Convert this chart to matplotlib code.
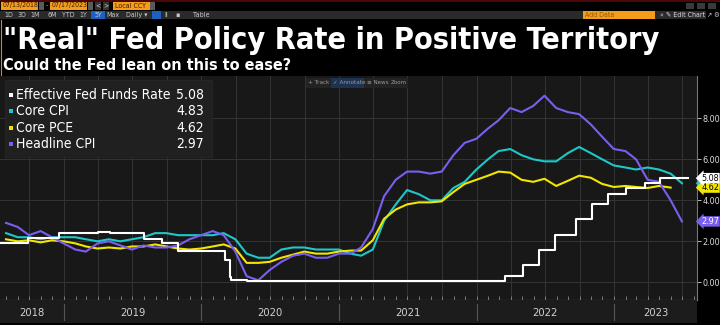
import numpy as np
import pandas as pd
import matplotlib
matplotlib.use("Agg")
import matplotlib.pyplot as plt
import matplotlib.dates as mdates
from matplotlib.patches import Rectangle
from matplotlib.ticker import FixedLocator, FormatStrFormatter
import matplotlib.transforms as mtransforms

plt.rcParams['font.family'] = ['DejaVu Sans']
plt.rcParams['font.stretch'] = 'condensed'

# monthly YoY inflation, month-end dates
cpi_dates = pd.date_range('2018-07-31', periods=60, freq='ME')
headline_cpi = [2.9, 2.7, 2.3, 2.5, 2.2, 1.9,
                1.6, 1.5, 1.9, 2.0, 1.8, 1.6, 1.8, 1.7, 1.7, 1.8, 2.1, 2.3,
                2.5, 2.3, 1.5, 0.3, 0.1, 0.6, 1.0, 1.3, 1.4, 1.2, 1.2, 1.4,
                1.4, 1.7, 2.6, 4.2, 5.0, 5.4, 5.4, 5.3, 5.4, 6.2, 6.8, 7.0,
                7.5, 7.9, 8.5, 8.3, 8.6, 9.1, 8.5, 8.3, 8.2, 7.7, 7.1, 6.5,
                6.4, 6.0, 5.0, 4.9, 4.0, 2.97]
core_cpi = [2.4, 2.2, 2.2, 2.1, 2.2, 2.2,
            2.2, 2.1, 2.0, 2.1, 2.0, 2.1, 2.2, 2.4, 2.4, 2.3, 2.3, 2.3,
            2.3, 2.4, 2.1, 1.4, 1.2, 1.2, 1.6, 1.7, 1.7, 1.6, 1.6, 1.6,
            1.4, 1.3, 1.6, 3.0, 3.8, 4.5, 4.3, 4.0, 4.0, 4.6, 4.9, 5.5,
            6.0, 6.4, 6.5, 6.2, 6.0, 5.9, 5.9, 6.3, 6.6, 6.3, 6.0, 5.7,
            5.6, 5.5, 5.6, 5.5, 5.3, 4.83]
pce_dates = pd.date_range('2018-07-31', periods=59, freq='ME')
core_pce = [2.1, 2.0, 2.05, 1.95, 2.05, 2.0,
            1.9, 1.75, 1.65, 1.7, 1.65, 1.75, 1.75, 1.85, 1.75, 1.65, 1.6, 1.65,
            1.75, 1.85, 1.65, 0.95, 0.95, 1.0, 1.2, 1.35, 1.5, 1.4, 1.4, 1.5,
            1.55, 1.55, 2.05, 3.1, 3.55, 3.8, 3.9, 3.9, 3.95, 4.4, 4.8, 5.0,
            5.2, 5.4, 5.35, 5.0, 4.9, 5.05, 4.7, 4.95, 5.2, 5.1, 4.8, 4.65,
            4.7, 4.65, 4.6, 4.7, 4.62]

# effective fed funds: date of each level change
effr_dates = pd.to_datetime([
    '2018-07-13', '2018-09-27', '2018-12-20', '2019-04-01', '2019-05-02',
    '2019-08-01', '2019-09-19', '2019-10-31', '2020-03-04', '2020-03-16',
    '2020-03-19', '2020-05-01', '2020-06-01', '2021-03-01', '2021-06-17',
    '2022-03-17', '2022-05-05', '2022-06-16', '2022-07-28', '2022-09-22',
    '2022-11-03', '2022-12-15', '2023-02-02', '2023-03-23', '2023-05-04',
    '2023-07-17'])
effr = [1.91, 2.18, 2.40, 2.44, 2.39,
        2.13, 1.90, 1.55, 1.09, 0.25,
        0.10, 0.05, 0.09, 0.07, 0.08,
        0.33, 0.83, 1.58, 2.33, 3.08,
        3.83, 4.33, 4.58, 4.83, 5.08,
        5.08]

series = [
    ('Effective Fed Funds Rate', effr_dates, effr, '#ffffff', 'black'),
    ('Core CPI', cpi_dates, core_cpi, '#1ec8c8', 'black'),
    ('Core PCE', pce_dates, core_pce, '#f2e600', 'black'),
    ('Headline CPI', cpi_dates, headline_cpi, '#7b5ef0', 'white'),
]

W, H = 720, 325
def fx(px):
    return px / W
def fy(py):
    return 1 - py / H

fig = plt.figure(figsize=(7.2, 3.25), dpi=100, facecolor='black')

# --- main chart panel ---
x0 = pd.Timestamp('2018-07-15')
x1 = pd.Timestamp('2023-08-09')
ax = fig.add_axes([0, fy(300), fx(697), (300 - 76) / H])
ax.set_facecolor('#181818')
ax.set_xlim(x0, x1)
ax.set_ylim(-0.86, 10.06)

for name, d, v, c, tc in series[1:]:
    ax.plot(d, v, color=c, lw=1.5, solid_joinstyle='round', zorder=3)
ax.plot(effr_dates, effr, color='white', lw=1.5, drawstyle='steps-post', zorder=4)

ax.yaxis.tick_right()
ax.yaxis.set_major_locator(FixedLocator([0, 2, 4, 6, 8]))
ax.yaxis.set_major_formatter(FormatStrFormatter('%.2f'))
ax.tick_params(axis='y', colors='#dddddd', labelsize=6.5, length=3, width=0.6, pad=1)
ax.xaxis.set_major_locator(mdates.MonthLocator(bymonth=[1, 4, 7, 10]))
ax.xaxis.set_minor_locator(mdates.MonthLocator())
ax.tick_params(axis='x', which='both', direction='in', length=3, width=0.6,
               colors='#8a8a8a', labelbottom=False)
ax.grid(True, color='#343434', lw=0.7)
ax.set_axisbelow(True)
for s in ['top', 'left']:
    ax.spines[s].set_visible(False)
ax.spines['right'].set_color('#777777')
ax.spines['bottom'].set_color('#8a8a8a')
ax.spines['right'].set_linewidth(0.8)
ax.spines['bottom'].set_linewidth(0.8)

# last-value tags on the right axis
tag_tr = mtransforms.blended_transform_factory(ax.transAxes, ax.transData)
for name, d, v, c, tc in [series[1], series[2], series[0], series[3]]:
    ax.text(1.006, v[-1], f'{v[-1]:.2f}', transform=tag_tr, fontsize=6.5,
            color=tc, va='center', ha='left', zorder=6, clip_on=False,
            bbox=dict(boxstyle='larrow,pad=0.08', fc=c, ec='none'))

# --- year band under the chart ---
band = fig.add_axes([0, fy(323), fx(697), 23 / H])
band.set_xlim(x0, x1)
band.set_ylim(0, 1)
band.axis('off')
band.add_patch(Rectangle((0, 0), 1, 1, transform=band.transAxes, fc='#1c1c1c', ec='none'))
for yr in range(2018, 2024):
    start = max(pd.Timestamp(f'{yr}-01-01'), x0)
    end = min(pd.Timestamp(f'{yr + 1}-01-01'), x1)
    mid = start + (end - start) / 2
    band.text(mid, 0.45, str(yr), color='#d0d0d0', fontsize=8, ha='center', va='center')
    if yr > 2018:
        band.plot([start, start], [0.12, 0.82], color='#555555', lw=0.8)

# --- legend box ---
fig.patches.append(Rectangle((fx(5), fy(157)), fx(207), 77 / H, transform=fig.transFigure,
                             fc='#202020', ec='#2a2a2a', lw=0.5))
for i, (name, d, v, c, tc) in enumerate(series):
    yrow = 95 + i * 16.3
    fig.patches.append(Rectangle((fx(9), fy(yrow + 2)), fx(4), 4 / H,
                                 transform=fig.transFigure, fc=c, ec='none'))
    fig.text(fx(16), fy(yrow), name, color='white', fontsize=10, va='center', ha='left')
    fig.text(fx(204), fy(yrow), f'{v[-1]:.2f}', color='white', fontsize=10,
             va='center', ha='right')

# --- chart toolbar ---
fig.patches.append(Rectangle((fx(306), fy(88)), fx(102), 10 / H, transform=fig.transFigure,
                             fc='#232323', ec='none'))
fig.patches.append(Rectangle((fx(331), fy(88)), fx(33), 10 / H, transform=fig.transFigure,
                             fc='#1d3352', ec='none'))
for px, lab in [(308, '+ Track'), (333, '✓ Annotate'), (367, '≡ News'), (391, 'Zoom')]:
    fig.text(fx(px), fy(83), lab, color='#9a9a9a', fontsize=4.5, va='center', ha='left')

# --- titles ---
fig.text(fx(3), fy(49), '"Real" Fed Policy Rate in Positive Territory', color='white',
         fontsize=22, weight='bold', va='baseline', ha='left')
fig.text(fx(3), fy(70), 'Could the Fed lean on this to ease?', color='white',
         fontsize=11.6, weight='bold', va='baseline', ha='left')
fig.add_artist(plt.Line2D([fx(0.6), fx(0.6)], [fy(20), fy(75)], transform=fig.transFigure,
                          color='#e08a00', lw=0.8))

# --- terminal header bar ---
fig.add_artist(plt.Line2D([0, 1], [fy(0.5), fy(0.5)], transform=fig.transFigure,
                          color='#5a0a0a', lw=1.2))
orange = '#f59c1a'
for left, right, lab in [(1, 38, '07/13/2018'), (50, 87, '07/17/2023'), (113, 150, 'Local CCY')]:
    fig.patches.append(Rectangle((fx(left), fy(9.5)), fx(right - left), 8 / H,
                                 transform=fig.transFigure, fc=orange, ec='none'))
    fig.text(fx(left + 2), fy(5.5), lab, color='#3a2000', fontsize=5, va='center', ha='left')
for left in [39, 88, 150]:
    fig.patches.append(Rectangle((fx(left), fy(9.5)), fx(5), 8 / H,
                                 transform=fig.transFigure, fc='#5a5a5a', ec='none'))
fig.text(fx(46.5), fy(5.5), '-', color='#bbbbbb', fontsize=5, va='center', ha='center')
for left, lab in [(95, '<'), (103, '>')]:
    fig.patches.append(Rectangle((fx(left), fy(9.5)), fx(6), 8 / H,
                                 transform=fig.transFigure, fc='#333333', ec='none'))
    fig.text(fx(left + 3), fy(5.5), lab, color='#cccccc', fontsize=5, va='center', ha='center')

fig.patches.append(Rectangle((0, fy(19)), fx(706), 8 / H, transform=fig.transFigure,
                             fc='#2a2a2a', ec='none'))
fig.patches.append(Rectangle((fx(91), fy(19)), fx(14), 8 / H, transform=fig.transFigure,
                             fc='#1f5fc0', ec='none'))
fig.patches.append(Rectangle((fx(152), fy(19)), fx(9), 8 / H, transform=fig.transFigure,
                             fc='#1f5fc0', ec='none'))
for px, lab in [(9, '1D'), (22, '3D'), (35, '1M'), (52, '6M'), (68, 'YTD'), (83, '1Y'),
                (98, '5Y'), (113, 'Max'), (137, 'Daily ▾'), (166, 'lI'), (178, '▪'),
                (201, 'Table')]:
    fig.text(fx(px), fy(15), lab, color='#c8c8c8', fontsize=5, va='center', ha='center')
fig.patches.append(Rectangle((fx(583), fy(19)), fx(72), 8 / H, transform=fig.transFigure,
                             fc=orange, ec='none'))
fig.text(fx(585), fy(15), 'Add Data', color='#8a5a10', fontsize=5, va='center', ha='left')
fig.text(fx(661), fy(15), '«', color='#c8c8c8', fontsize=5, va='center', ha='center')
fig.text(fx(666), fy(15), '✎ Edit Chart', color='#dddddd', fontsize=5, va='center', ha='left')
fig.text(fx(709), fy(15), '↗', color='#c8c8c8', fontsize=5, va='center', ha='center')
fig.text(fx(716), fy(15), '⚙', color='#c8c8c8', fontsize=5, va='center', ha='center')
for px in [690, 701, 712]:
    fig.patches.append(Rectangle((fx(px - 4), fy(9)), fx(8), 6 / H, transform=fig.transFigure,
                                 fc='#3a3a3a', ec='none'))

fig.savefig('out.png', dpi=100, facecolor='black')
